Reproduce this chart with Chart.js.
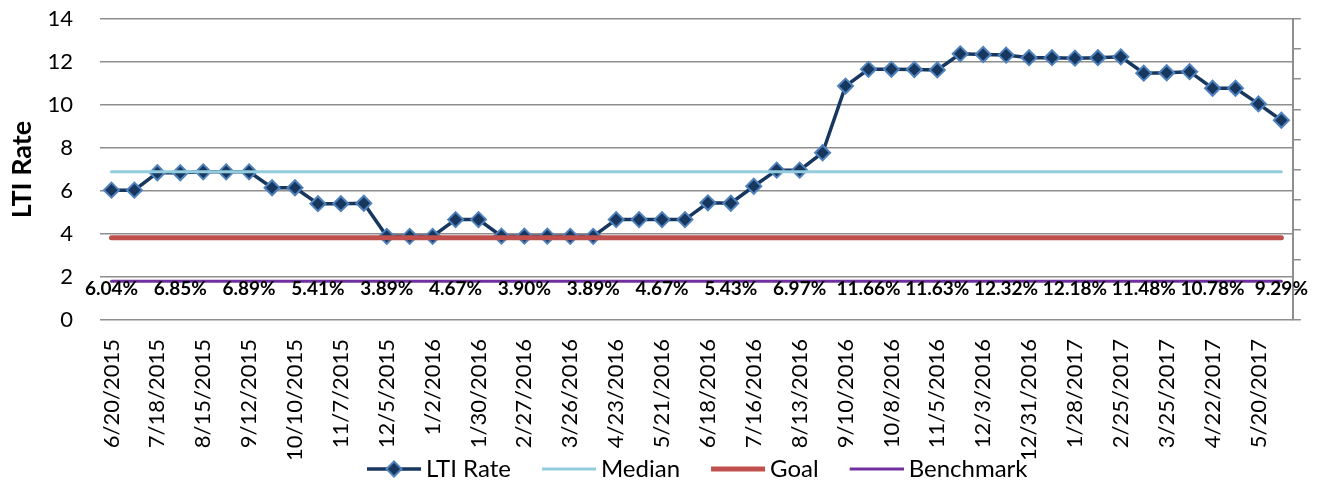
<!DOCTYPE html>
<html>
<head>
<meta charset="utf-8">
<script src="https://cdn.jsdelivr.net/npm/chart.js@4.4.1/dist/chart.umd.min.js"></script>
<style>
html,body{margin:0;padding:0;background:#fff;}
#wrap{width:1319px;height:481px;}
</style>
</head>
<body>
<div id="wrap"><canvas id="c" width="1319" height="481"></canvas></div>
<script>
// ---------- data ----------
const dates = [
  '6/20/2015','7/4/2015','7/18/2015','8/1/2015','8/15/2015','8/29/2015','9/12/2015','9/26/2015',
  '10/10/2015','10/24/2015','11/7/2015','11/21/2015','12/5/2015','12/19/2015','1/2/2016','1/16/2016',
  '1/30/2016','2/13/2016','2/27/2016','3/12/2016','3/26/2016','4/9/2016','4/23/2016','5/7/2016',
  '5/21/2016','6/4/2016','6/18/2016','7/2/2016','7/16/2016','7/30/2016','8/13/2016','8/27/2016',
  '9/10/2016','9/24/2016','10/8/2016','10/22/2016','11/5/2016','11/19/2016','12/3/2016','12/17/2016',
  '12/31/2016','1/14/2017','1/28/2017','2/11/2017','2/25/2017','3/11/2017','3/25/2017','4/8/2017',
  '4/22/2017','5/6/2017','5/20/2017','6/3/2017'
];
const ltiRate = [
  6.04,6.04,6.85,6.85,6.89,6.89,6.89,6.15,6.15,5.41,5.41,5.43,
  3.89,3.89,3.89,4.67,4.67,3.90,3.90,3.90,3.89,3.89,
  4.67,4.67,4.67,4.67,5.45,5.43,6.22,6.97,6.97,7.78,
  10.88,11.66,11.66,11.65,11.63,12.38,12.35,12.32,12.20,12.20,
  12.18,12.20,12.24,11.48,11.50,11.55,10.78,10.78,10.05,9.29
];
const median = [
  6.9,6.9,6.9,6.9,6.9,6.9,6.9,6.9,6.9,6.9,6.9,6.9,6.9,6.9,6.9,6.9,6.9,6.9,6.9,6.9,6.9,6.9,6.9,6.9,6.9,6.9,
  6.9,6.9,6.9,6.9,6.9,6.9,6.9,6.9,6.9,6.9,6.9,6.9,6.9,6.9,6.9,6.9,6.9,6.9,6.9,6.9,6.9,6.9,6.9,6.9,6.9,6.9
];
const goal = [
  3.83,3.83,3.83,3.83,3.83,3.83,3.83,3.83,3.83,3.83,3.83,3.83,3.83,3.83,3.83,3.83,3.83,3.83,3.83,3.83,3.83,3.83,3.83,3.83,3.83,3.83,
  3.83,3.83,3.83,3.83,3.83,3.83,3.83,3.83,3.83,3.83,3.83,3.83,3.83,3.83,3.83,3.83,3.83,3.83,3.83,3.83,3.83,3.83,3.83,3.83,3.83,3.83
];
const benchmark = [
  1.8,1.8,1.8,1.8,1.8,1.8,1.8,1.8,1.8,1.8,1.8,1.8,1.8,1.8,1.8,1.8,1.8,1.8,1.8,1.8,1.8,1.8,1.8,1.8,1.8,1.8,
  1.8,1.8,1.8,1.8,1.8,1.8,1.8,1.8,1.8,1.8,1.8,1.8,1.8,1.8,1.8,1.8,1.8,1.8,1.8,1.8,1.8,1.8,1.8,1.8,1.8,1.8
];
const seriesNames = ['LTI Rate', 'Median', 'Goal', 'Benchmark'];
const yAxisTitle = 'LTI Rate';
const yMin = 0, yMax = 14, yStep = 2;
const dateLabelEvery = 2;   // every other date shown on the axis
const pctLabelEvery = 3;    // value labels shown every third point

// ---------- style ----------
const FONT = 'Lato, "Open Sans", sans-serif';
const NAVY = '#17375E';
const MARKER_EDGE = '#4F81BD';
const MEDIAN_C = '#93CDDD';
const GOAL_C = '#C0504D';
const BENCH_C = '#7030A0';
const GRID_C = '#8E8E8E';
const LEGEND_FONT = 24;
const LEGEND_PAD = 31;
const LEGEND_START_X = 367;
const LEGEND_CENTER_Y = 469;

function legendImg(color, width, diamond) {
  const c = document.createElement('canvas');
  c.width = 61; c.height = 20;
  const g = c.getContext('2d');
  g.strokeStyle = color; g.lineWidth = width;
  g.beginPath(); g.moveTo(7, 10); g.lineTo(61, 10); g.stroke();
  if (diamond) {
    g.fillStyle = NAVY; g.strokeStyle = MARKER_EDGE; g.lineWidth = 2;
    g.beginPath(); g.moveTo(34, 2.5); g.lineTo(41.5, 10); g.lineTo(34, 17.5); g.lineTo(26.5, 10); g.closePath();
    g.fill(); g.stroke();
  }
  return c;
}
const legendImgs = [
  legendImg(NAVY, 3.5, true),
  legendImg(MEDIAN_C, 3, false),
  legendImg(GOAL_C, 5, false),
  legendImg(BENCH_C, 3, false)
];

const pctLabels = {
  id: 'pctLabels',
  afterDatasetsDraw(chart) {
    const {ctx} = chart;
    const xs = chart.scales.x, ys = chart.scales.y;
    ctx.save();
    ctx.font = 'bold 19px ' + FONT;
    ctx.fillStyle = '#000';
    ctx.textAlign = 'center';
    ctx.textBaseline = 'middle';
    for (let i = 0; i < ltiRate.length; i += pctLabelEvery) {
      ctx.fillText(ltiRate[i].toFixed(2) + '%', xs.getPixelForValue(i), ys.getPixelForValue(benchmark[i]) + 8);
    }
    ctx.restore();
  }
};

const legendPlace = {
  id: 'legendPlace',
  afterLayout(chart) {
    const lg = chart.legend;
    if (!lg || !lg.lineWidths) return;
    const cx = (lg.left + LEGEND_PAD + lg.right - lg.lineWidths[0]) / 2;
    const dx = LEGEND_START_X - cx;
    lg.left += dx; lg.right += dx; 
    const cy = lg.top + LEGEND_PAD + LEGEND_FONT / 2;
    lg.top += LEGEND_CENTER_Y - cy;
    lg.bottom = chart.height;
    lg.height = lg.bottom - lg.top;
  }
};

new Chart(document.getElementById('c'), {
  type: 'line',
  data: {
    labels: dates,
    datasets: [
      {
        label: seriesNames[0], data: ltiRate, order: 4,
        borderColor: NAVY, borderWidth: 3.5, backgroundColor: NAVY,
        pointStyle: 'rectRot', pointRadius: 7.5, pointBorderWidth: 2,
        pointBackgroundColor: NAVY, pointBorderColor: MARKER_EDGE,
        tension: 0, yAxisID: 'y'
      },
      {
        label: seriesNames[1], data: median, order: 3,
        borderColor: MEDIAN_C, backgroundColor: MEDIAN_C, borderWidth: 3,
        pointRadius: 0, borderCapStyle: 'round', yAxisID: 'y'
      },
      {
        label: seriesNames[2], data: goal, order: 2,
        borderColor: GOAL_C, backgroundColor: GOAL_C, borderWidth: 5,
        pointRadius: 0, borderCapStyle: 'round', yAxisID: 'y'
      },
      {
        label: seriesNames[3], data: benchmark, order: 1,
        borderColor: BENCH_C, backgroundColor: BENCH_C, borderWidth: 3,
        pointRadius: 0, borderCapStyle: 'round', yAxisID: 'y'
      }
    ]
  },
  options: {
    responsive: false,
    animation: false,
    events: [],
    layout: { padding: { top: 19, left: 0, right: 0, bottom: 0 } },
    scales: {
      x: {
        type: 'category',
        offset: true,
        grid: { display: false },
        border: { display: false },
        ticks: {
          autoSkip: false, minRotation: 90, maxRotation: 90, padding: 11,
          color: '#000', font: { family: FONT, size: 22 },
          callback: (v, i) => (i % dateLabelEvery === 0 ? dates[i] : '')
        },
        afterFit: (s) => { s.height = 150; }
      },
      y: {
        position: 'left',
        min: yMin, max: yMax,
        ticks: { stepSize: yStep, padding: 27, color: '#000', font: { family: FONT, size: 22 } },
        grid: { color: GRID_C, lineWidth: 1.5, drawTicks: false },
        border: { display: false },
        title: {
          display: true, text: yAxisTitle, color: '#000',
          font: { family: FONT, size: 27, weight: 'bold' },
          padding: { top: 6, bottom: 0 }
        },
        afterFit: (s) => { s.width = 100; s.paddingTop = 0; s.paddingBottom = 0; }
      },
      y2: {
        position: 'right',
        min: 0, max: 10,
        ticks: { display: false, stepSize: 1 },
        grid: { drawOnChartArea: false, drawTicks: true, tickLength: 8, color: GRID_C, lineWidth: 1.5 },
        border: { display: true, color: GRID_C, width: 2 },
        afterFit: (s) => { s.width = 22; s.paddingTop = 0; s.paddingBottom = 0; }
      }
    },
    plugins: {
      tooltip: { enabled: false },
      legend: {
        position: 'bottom',
        maxHeight: 11,
        labels: {
          usePointStyle: true, pointStyleWidth: 47, padding: LEGEND_PAD,
          color: '#000', font: { family: FONT, size: LEGEND_FONT },
          generateLabels: (chart) => {
            const items = Chart.defaults.plugins.legend.labels.generateLabels(chart);
            items.forEach(it => { it.pointStyle = legendImgs[it.datasetIndex]; });
            return items;
          },
          sort: (a, b) => a.datasetIndex - b.datasetIndex
        }
      }
    }
  },
  plugins: [pctLabels, legendPlace]
});
</script>
</body>
</html>
